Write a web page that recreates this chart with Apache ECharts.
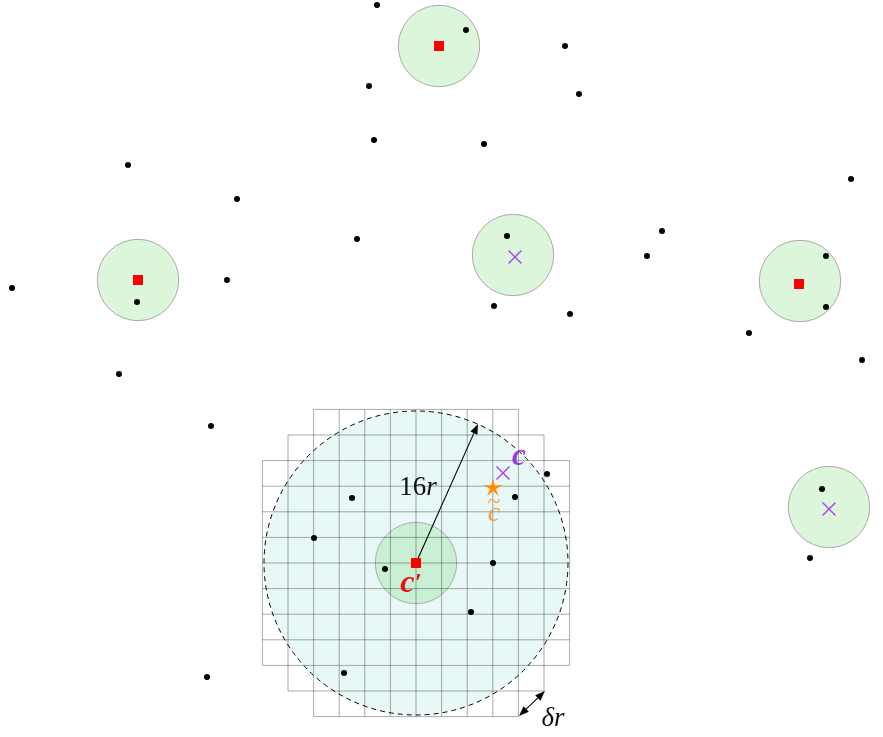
<!DOCTYPE html>
<html>
<head>
<meta charset="utf-8">
<script src="https://cdn.jsdelivr.net/npm/echarts@6/dist/echarts.min.js"></script>
<style>
html,body{margin:0;padding:0;background:#fff;}
#chart{width:883px;height:737px;}
</style>
</head>
<body>
<div id="chart"></div>
<script>
// ---------- data (diagram units; y grows downward) ----------
const dots = [[377,5],[466,30],[565,46],[369,86],[579,94],[374,140],[484,144],[128,165],[851,179],[237,199],[662,231],[357,239],[507,236],[647,256],[826,256],[227,280],[12,288],[137,302],[494,306],[570,314],[826,307],[749,333],[862,360],[119,374],[211,426],[352,498],[547,474],[515,497],[314,538],[385,569],[493,563],[822,489],[471,612],[810,558],[344,673],[207,677],[884,451],[884,566]];
const greenCircles = [[439,46],[138,280],[513,255],[800,281],[829,507],[416,563]];
const greenRadius = 40.7;
const redSquares = [[439,46],[138,280],[799,284],[416,563]];
const purpleCrosses = [[515,257],[829,509],[503,473]];
const orangeStars = [[493,488]];
const bigCircle = [416,563,152];
const cellSize = 25.6;
const rowHalfWidths = [4,5,6,6,6,6,6,6,6,6,5,4]; // cells each side of centre, rows top to bottom
const arrows = [[416,563,478,424,1],[519,716,545,691,2]];
const labels = [[418,488,'r16'],[519,457,'c'],[494,503,'tilde'],[494,514,'ct'],[411,584,'cp'],[553,719,'dr']];

// ---------- derived grid segments ----------
const half = rowHalfWidths.length / 2;
const gridSegs = [];
const cx = bigCircle[0], cy = bigCircle[1];
for (let j = 0; j <= rowHalfWidths.length; j++) {
  const w = Math.max(rowHalfWidths[j - 1] || 0, rowHalfWidths[j] || 0);
  const y = cy + (j - half) * cellSize;
  gridSegs.push([cx - w * cellSize, y, cx + w * cellSize, y]);
}
const colHalfHeights = rowHalfWidths;
for (let j = 0; j <= colHalfHeights.length; j++) {
  const h = Math.max(colHalfHeights[j - 1] || 0, colHalfHeights[j] || 0);
  const x = cx + (j - half) * cellSize;
  gridSegs.push([x, cy - h * cellSize, x, cy + h * cellSize]);
}

const serif = '"Liberation Serif", "DejaVu Serif", serif';
const labelStyles = {
  r16: {text:'{n|16}{i|r}', rich:{n:{fontFamily:serif,fontSize:27,fill:'#111'}, i:{fontFamily:serif,fontStyle:'italic',fontSize:27,fill:'#111'}}},
  c: {text:'{b|c}', rich:{b:{fontFamily:serif,fontStyle:'italic',fontWeight:'bold',fontSize:31,fill:'#9b35e6'}}},
  tilde: {text:'{t|~}', rich:{t:{fontFamily:serif,fontSize:24,fill:'#f5a032'}}},
  ct: {text:'{c|c}', rich:{c:{fontFamily:serif,fontStyle:'italic',fontSize:28,fill:'#f5a032'}}},
  cp: {text:'{c|c}{p|′}', rich:{c:{fontFamily:serif,fontStyle:'italic',fontWeight:'bold',fontSize:32,fill:'#ee1111'}, p:{fontFamily:serif,fontStyle:'italic',fontWeight:'bold',fontSize:26,fill:'#ee1111'}}},
  dr: {text:'{i|δr}', rich:{i:{fontFamily:serif,fontStyle:'italic',fontSize:27,fill:'#111'}}}
};

const chart = echarts.init(document.getElementById('chart'), null, {renderer:'canvas'});

function circleItem(fill, stroke, dash) {
  return function (params, api) {
    const c = api.coord([api.value(0), api.value(1)]);
    const r = api.size([api.value(2), 0])[0];
    return {type:'circle', shape:{cx:c[0], cy:c[1], r:r},
      style:{fill:fill, stroke:stroke, lineWidth:1, lineDash:dash || null}};
  };
}

function arrowHead(p, q, L, W) {
  const dx = q[0]-p[0], dy = q[1]-p[1];
  const len = Math.sqrt(dx*dx+dy*dy);
  const ux = dx/len, uy = dy/len, nx = -uy, ny = ux;
  return [[q[0],q[1]],[q[0]-L*ux+W*nx, q[1]-L*uy+W*ny],[q[0]-L*ux-W*nx, q[1]-L*uy-W*ny]];
}

chart.setOption({
  animation:false,
  backgroundColor:'#ffffff',
  grid:{left:0,right:0,top:0,bottom:0},
  xAxis:{type:'value',min:0,max:883,show:false},
  yAxis:{type:'value',min:0,max:737,inverse:true,show:false},
  series:[
    {
      type:'custom', z:1, silent:true,
      data:[bigCircle], encode:{x:0,y:1},
      renderItem:circleItem('#e8f8f7', null)
    },
    {
      type:'custom', z:2, silent:true,
      data:greenCircles.map(d => [d[0], d[1], greenRadius]), encode:{x:0,y:1},
      renderItem:circleItem('rgba(60,205,60,0.18)', '#aaaaaa')
    },
    {
      type:'custom', z:3, silent:true,
      data:gridSegs, encode:{x:[0,2],y:[1,3]},
      renderItem:function(params, api){
        const a = api.coord([api.value(0), api.value(1)]);
        const b = api.coord([api.value(2), api.value(3)]);
        return {type:'line', shape:{x1:a[0],y1:a[1],x2:b[0],y2:b[1]},
          style:{stroke:'rgba(0,0,0,0.33)', lineWidth:1}};
      }
    },
    {
      type:'custom', z:4, silent:true,
      data:[bigCircle], encode:{x:0,y:1},
      renderItem:circleItem(null, '#000000', [5,4])
    },
    {
      type:'custom', z:5, silent:true,
      data:arrows, encode:{x:[0,2],y:[1,3]},
      renderItem:function(params, api){
        const a = api.coord([api.value(0), api.value(1)]);
        const b = api.coord([api.value(2), api.value(3)]);
        const both = api.value(4) === 2;
        const children = [];
        const L = 10, W = 3.8;
        const h1 = arrowHead(a, b, L, W);
        children.push({type:'polygon', shape:{points:h1}, style:{fill:'#000'}});
        let s = a;
        if (both) {
          const h2 = arrowHead(b, a, L, W);
          children.push({type:'polygon', shape:{points:h2}, style:{fill:'#000'}});
          s = [(h2[1][0]+h2[2][0])/2, (h2[1][1]+h2[2][1])/2];
        }
        const e = [(h1[1][0]+h1[2][0])/2, (h1[1][1]+h1[2][1])/2];
        children.push({type:'line', shape:{x1:s[0],y1:s[1],x2:e[0],y2:e[1]}, style:{stroke:'#000', lineWidth:1.1}});
        return {type:'group', children:children};
      }
    },
    {
      type:'scatter', z:6, silent:true,
      data:dots, symbol:'circle', symbolSize:6,
      itemStyle:{color:'#000000', opacity:1}
    },
    {
      type:'scatter', z:7, silent:true,
      data:redSquares, symbol:'rect', symbolSize:10,
      itemStyle:{color:'#ff0000', opacity:1}
    },
    {
      type:'custom', z:7, silent:true,
      data:purpleCrosses, encode:{x:0,y:1},
      renderItem:function(params, api){
        const c = api.coord([api.value(0), api.value(1)]);
        const h = 6.5;
        const st = {stroke:'#a346ee', lineWidth:1.4};
        return {type:'group', children:[
          {type:'line', shape:{x1:c[0]-h,y1:c[1]-h,x2:c[0]+h,y2:c[1]+h}, style:st},
          {type:'line', shape:{x1:c[0]-h,y1:c[1]+h,x2:c[0]+h,y2:c[1]-h}, style:st}
        ]};
      }
    },
    {
      type:'custom', z:7, silent:true,
      data:orangeStars, encode:{x:0,y:1},
      renderItem:function(params, api){
        const c = api.coord([api.value(0), api.value(1)]);
        const pts = [];
        const R = 10, r = 3;
        for (let k = 0; k < 10; k++) {
          const ang = -Math.PI/2 + k*Math.PI/5;
          const rad = k % 2 === 0 ? R : r;
          pts.push([c[0] + rad*Math.cos(ang), c[1] + rad*Math.sin(ang)]);
        }
        return {type:'polygon', shape:{points:pts}, style:{fill:'#ff8c0a'}};
      }
    },
    {
      type:'custom', z:8, silent:true,
      data:labels.map(l => [l[0], l[1]]), encode:{x:0,y:1},
      renderItem:function(params, api){
        const lab = labels[params.dataIndex];
        const c = api.coord([api.value(0), api.value(1)]);
        const s = labelStyles[lab[2]];
        return {type:'text', x:c[0], y:c[1],
          style:{text:s.text, rich:s.rich, align:'center', verticalAlign:'middle'}};
      }
    }
  ]
});
</script>
</body>
</html>
